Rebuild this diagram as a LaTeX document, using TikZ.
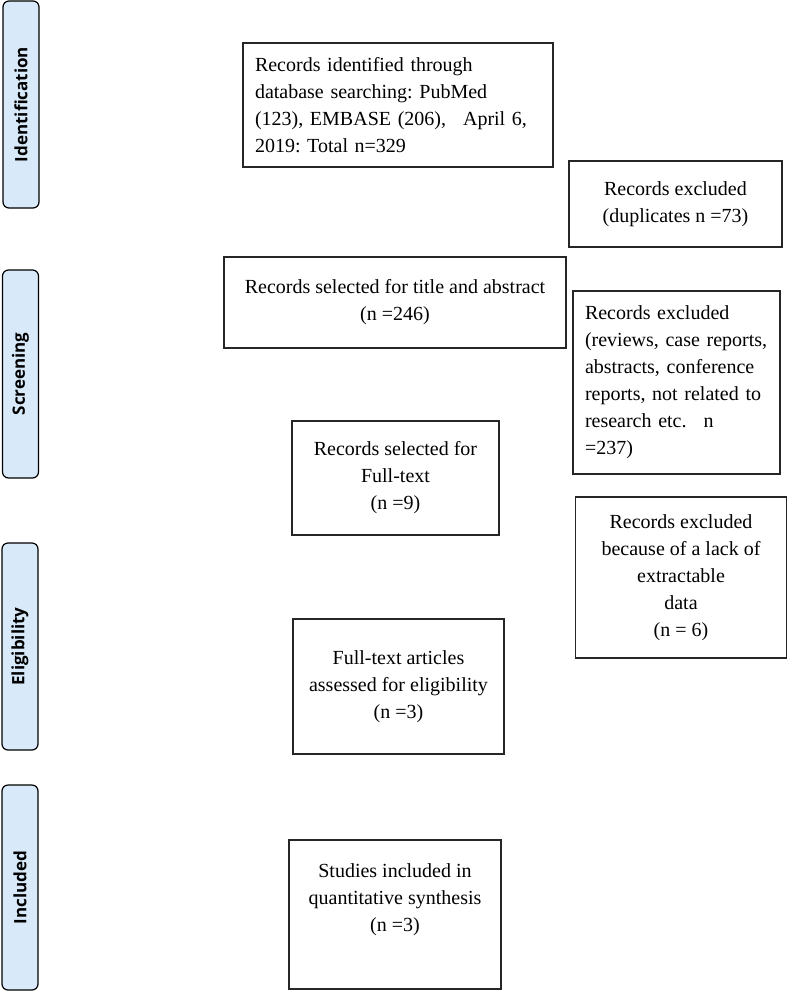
\documentclass[tikz,border=0pt]{standalone}
\usepackage{fontspec}
\setmainfont{Liberation Serif}
\newfontfamily\phasefont{Open Sans}
\definecolor{phasefill}{RGB}{216,234,249}
\frenchspacing
\begin{document}
\begin{tikzpicture}[x=1pt,y=-1pt,
    phase/.style={draw=black,line width=1.2pt,rounded corners=6pt,fill=phasefill,
      minimum width=36pt,inner sep=0pt,
      font=\phasefont\bfseries\fontsize{17}{20}\selectfont},
    box/.style={draw=black!85,line width=1.3pt,inner sep=12pt,
      font=\fontsize{20}{27}\selectfont}]
  \useasboundingbox (0,0) rectangle (788,994);
  % phase bars on the left
  \node[phase,minimum height=207pt] (ident) at (21,104.5)
    {\rotatebox{90}{Identification}};
  \node[phase,minimum height=208pt] (screen) at (20.5,374)
    {\rotatebox{90}{Screening}};
  \node[phase,minimum height=207pt] (elig) at (20,646.5)
    {\rotatebox{90}{Eligibility}};
  \node[phase,minimum height=205pt] (incl) at (20,887.5)
    {\rotatebox{90}{Included}};
  % records
  \node[box,text width=286pt,align=left,minimum height=124pt] (found) at (398,105)
    {Records identified through\\ database searching: PubMed\\
     (123), EMBASE (206),\hspace{17pt}April 6,\\ 2019: Total n=329};
  \node[box,align=center,minimum width=213pt,minimum height=86pt] (dupl) at (675.5,204)
    {Records excluded\\ (duplicates n =73)};
  \node[box,align=center,minimum width=342pt,minimum height=91pt] (title) at (395,302.5)
    {Records selected for title and abstract\\ (n =246)};
  \node[box,text width=183pt,align=left,minimum height=183pt] (review) at (676.5,382.5)
    {Records excluded\\ (reviews, case reports,\\ abstracts, conference\\
     reports, not related to\\ research etc.\hspace{17pt}n\\ =237)};
  \node[box,align=center,minimum width=207pt,minimum height=114pt] (full) at (395.5,478)
    {Records selected for\\ Full-text\\ (n =9)};
  \node[box,align=center,minimum width=211pt,minimum height=161pt] (nodata) at (681,577.5)
    {Records excluded\\ because of a lack of\\ extractable\\ data\\ (n = 6)};
  \node[box,align=center,minimum width=211pt,minimum height=135pt] (assess) at (398.5,686.5)
    {Full-text articles\\ assessed for eligibility\\ (n =3)};
  \node[box,align=center,minimum width=212pt,minimum height=149pt] (synth) at (395,914.5)
    {Studies included in\\ quantitative synthesis\\ (n =3)\\[6pt] ~};
\end{tikzpicture}
\end{document}
